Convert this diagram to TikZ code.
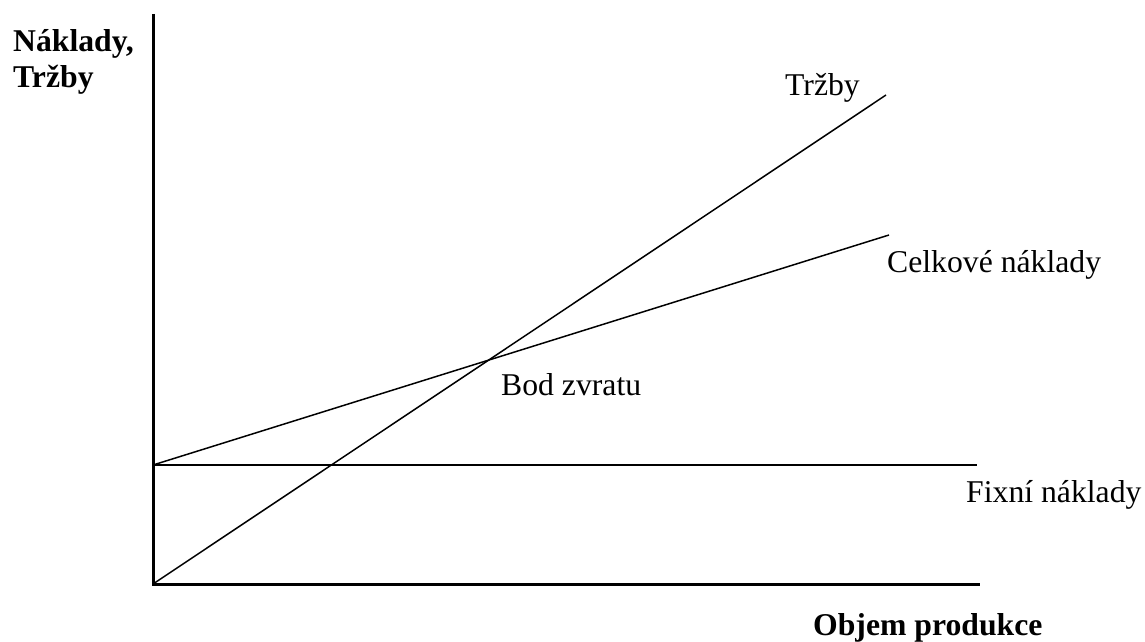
\documentclass[tikz,border=0pt]{standalone}
\usepackage{fontspec}
\setmainfont{Liberation Serif}
\begin{document}
\begin{tikzpicture}[x=1pt,y=-1pt,
  lbl/.style={anchor=base west,inner sep=0pt,font=\fontsize{31.7}{36}\selectfont},
  blbl/.style={lbl,font=\fontsize{31.7}{36}\selectfont\bfseries},
  axisline/.style={line width=3pt},
  curve/.style={line width=1.5pt}]
\useasboundingbox (0,0) rectangle (1145,642);
\coordinate (ytop) at (153,14);
\coordinate (o) at (153,584);
\coordinate (xend) at (980,584);
\coordinate (f0) at (153,465);
\coordinate (f1) at (977,465);
\coordinate (r1) at (886,95);
\coordinate (c1) at (889,235);
\draw[axisline] (ytop) -- (o) -- (xend);
\draw[curve] (f0) -- (f1);
\draw[curve] (o) -- (r1);
\draw[curve] (f0) -- (c1);
\node[blbl] (yl1) at (13,52) {Náklady,};
\node[blbl] (yl2) at (13,88) {Tržby};
\node[blbl] (xl) at (813,635) {Objem produkce};
\node[lbl] (tr) at (785,95) {Tržby};
\node[lbl] (ck) at (887,272) {Celkové náklady};
\node[lbl] (bz) at (501,395) {Bod zvratu};
\node[lbl] (fn) at (966,502) {Fixní náklady};
\end{tikzpicture}
\end{document}
